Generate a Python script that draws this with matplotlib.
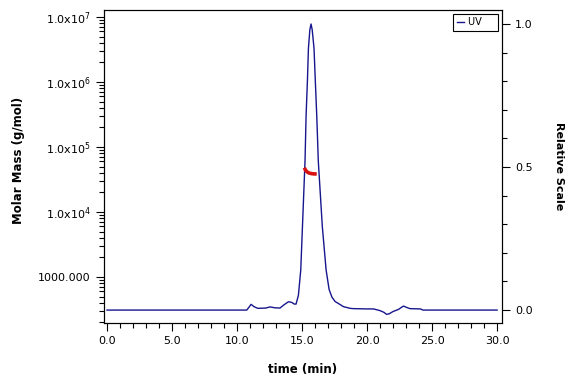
import matplotlib
matplotlib.use("Agg")
import matplotlib.pyplot as plt
from matplotlib.ticker import MultipleLocator, FixedLocator, FixedFormatter, LogLocator, NullFormatter

# UV trace (relative scale)
uv_time = [0.0, 10.5, 10.75, 10.95, 11.08, 11.3, 11.6, 12.2, 12.54, 12.9, 13.3, 13.6,
           13.95, 14.2, 14.4, 14.54, 14.72, 14.9, 15.03, 15.23, 15.31, 15.41, 15.49,
           15.6, 15.69, 15.78, 15.92, 16.02, 16.13, 16.25, 16.56, 16.85, 17.08, 17.3,
           17.54, 17.9, 18.18, 18.7, 18.95, 20.0, 20.5, 21.0, 21.3, 21.5, 21.7, 22.0,
           22.4, 22.8, 23.0, 23.3, 24.1, 24.3, 30.0]
uv_value = [0.0, 0.0, 0.0, 0.012, 0.02, 0.012, 0.006, 0.007, 0.011, 0.008, 0.007, 0.018,
            0.029, 0.027, 0.021, 0.021, 0.052, 0.14, 0.291, 0.524, 0.68, 0.798, 0.915,
            0.98, 1.0, 0.98, 0.915, 0.80, 0.68, 0.52, 0.291, 0.14, 0.072, 0.045,
            0.03, 0.02, 0.012, 0.006, 0.005, 0.004, 0.004, -0.002, -0.008, -0.015, -0.013, -0.005,
            0.002, 0.014, 0.01, 0.005, 0.004, 0.0, 0.0]

# molar mass across the peak
mm_time = [15.18, 15.25, 15.35, 15.5, 15.7, 15.9, 16.13]
mm_value = [48000, 44500, 42000, 40000, 39000, 38500, 38500]

fig = plt.figure(figsize=(5.76, 3.84), dpi=100)
ax = fig.add_axes([0.1806, 0.159, 0.691, 0.815])
ax2 = ax.twinx()

ax2.plot(uv_time, uv_value, color="#16168e", lw=1.0, label="UV")
ax.plot(mm_time, mm_value, color="#d81010", lw=2.6, solid_capstyle="butt")

ax.set_zorder(ax2.get_zorder() + 1)
ax.patch.set_visible(False)

ax.set_yscale("log")
ax.set_xlim(-0.23, 30.38)
ax.set_ylim(196, 10 ** 7.108)
ax2.set_ylim(-0.045, 1.049)

ax.set_xticks([0, 5, 10, 15, 20, 25, 30])
ax.set_xticklabels(["0.0", "5.0", "10.0", "15.0", "20.0", "25.0", "30.0"])
ax.xaxis.set_minor_locator(MultipleLocator(1))

ax.yaxis.set_major_locator(FixedLocator([1e3, 1e4, 1e5, 1e6, 1e7]))
ax.yaxis.set_major_formatter(FixedFormatter(["1000.000", r"1.0x10$^{4}$", r"1.0x10$^{5}$",
                                             r"1.0x10$^{6}$", r"1.0x10$^{7}$"]))
ax.yaxis.set_minor_locator(LogLocator(base=10, subs=range(2, 10), numticks=20))
ax.yaxis.set_minor_formatter(NullFormatter())

ax2.yaxis.set_major_locator(FixedLocator([0.0, 0.5, 1.0]))
ax2.set_yticklabels(["0.0", "0.5", "1.0"])
ax2.yaxis.set_minor_locator(MultipleLocator(0.1))

for a in (ax, ax2):
    a.tick_params(which="major", length=6, width=0.8, labelsize=8, direction="out")
    a.tick_params(which="minor", length=3.5, width=0.8, direction="out")

ax.set_xlabel("time (min)", fontsize=8.5, fontweight="bold")
ax.set_ylabel("Molar Mass (g/mol)", fontsize=8.5, fontweight="bold")
ax2.set_ylabel("Relative Scale", fontsize=8, fontweight="bold", rotation=-90)
ax.xaxis.set_label_coords(0.5, -0.128)
ax.yaxis.set_label_coords(-0.199, 0.52)
ax2.yaxis.set_label_coords(1.156, 0.5)

leg = ax2.legend(loc="upper right", fontsize=7, handlelength=0.7, handletextpad=0.5,
                 borderpad=0.35, fancybox=False, framealpha=1, edgecolor="black",
                 borderaxespad=0.4)
leg.get_frame().set_linewidth(0.8)
for t in leg.get_texts():
    t.set_text("UV    ")

fig.savefig("out.png", dpi=100)
